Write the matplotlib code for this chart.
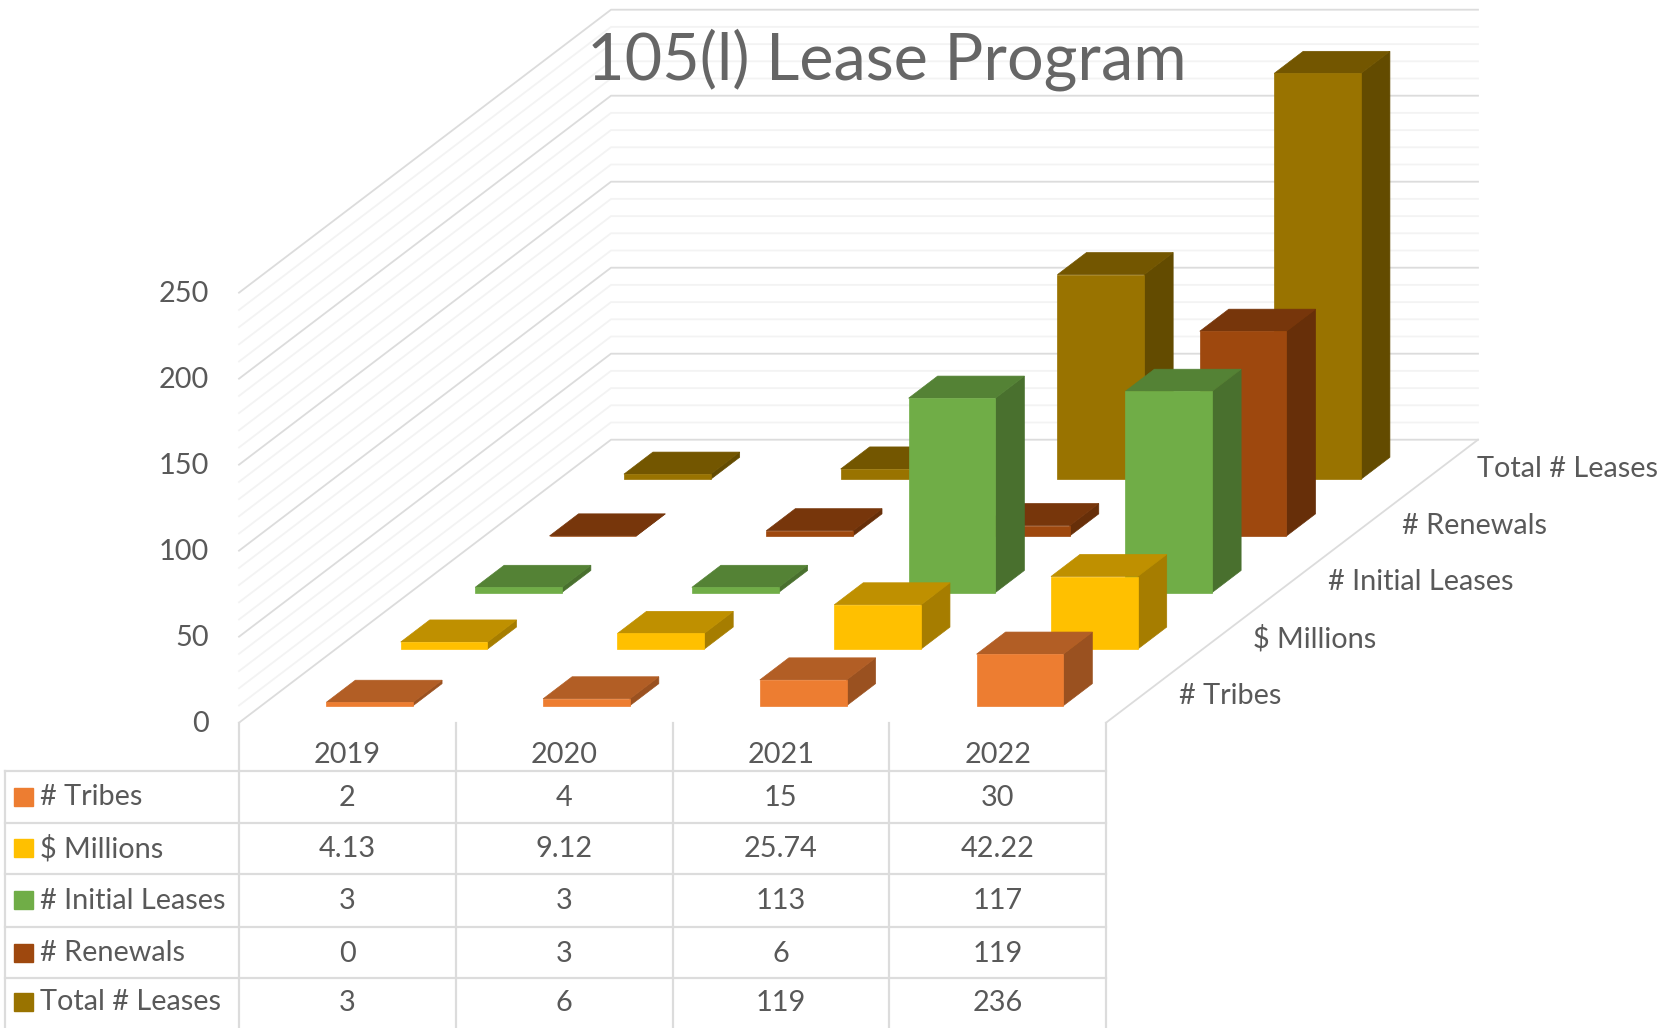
import matplotlib
matplotlib.use("Agg")
import matplotlib.pyplot as plt

years = ["2019", "2020", "2021", "2022"]
series = ["# Tribes", "$ Millions", "# Initial Leases", "# Renewals", "Total # Leases"]
tribes = [2, 4, 15, 30]
millions = [4.13, 9.12, 25.74, 42.22]
initial = [3, 3, 113, 117]
renewals = [0, 3, 6, 119]
total = [3, 6, 119, 236]
values = [tribes, millions, initial, renewals, total]
colors = ["#ED7D31", "#FFC000", "#70AD47", "#9E480E", "#997300"]

# geometry in pixels of the picture
x0, y0 = 239.0, 722.7
cat_w = 216.75
row_dx, row_dy = 74.4, -56.6
unit = 1.72
bar_w = 0.4
bar_d = 0.39
n_cat = len(years)
n_row = len(series)
grey = "#595959"
major = "#DCDCDC"
minor = "#F3F3F3"
fs = 20.8

plt.rcParams["font.family"] = ["Lato", "DejaVu Sans"]
fig = plt.figure(figsize=(16.61, 10.28), dpi=100)
ax = fig.add_axes([0, 0, 1, 1])
ax.set_xlim(0, 1661)
ax.set_ylim(1028, 0)
ax.axis("off")


def proj(cat, row, val):
    return x0 + cat * cat_w + row * row_dx, y0 + row * row_dy - val * unit


def shade(color, f):
    r, g, b = matplotlib.colors.to_rgb(color)
    return (r * f, g * f, b * f)


# wall and floor grid
for v in range(0, 251, 10):
    col = major if v % 50 == 0 else minor
    z = 2 if v % 50 == 0 else 1
    a = proj(0, 0, v)
    b = proj(0, n_row, v)
    c = proj(n_cat, n_row, v)
    ax.plot([a[0], b[0], c[0]], [a[1], b[1], c[1]], color=col, lw=1.3, zorder=z)
a = proj(n_cat, 0, 0)
b = proj(n_cat, n_row, 0)
ax.plot([a[0], b[0]], [a[1], b[1]], color=major, lw=1.3, zorder=2)

# bars, back row first so the front ones cover them
order = 3
for r in range(n_row - 1, -1, -1):
    for c in range(n_cat):
        v = values[r][c]
        l = c + 0.5 - bar_w / 2
        h = c + 0.5 + bar_w / 2
        f = 0.3 + r
        k = f + bar_d
        col = colors[r]
        front = [proj(l, f, 0), proj(h, f, 0), proj(h, f, v), proj(l, f, v)]
        side = [proj(h, f, 0), proj(h, k, 0), proj(h, k, v), proj(h, f, v)]
        top = [proj(l, f, v), proj(h, f, v), proj(h, k, v), proj(l, k, v)]
        ax.fill(*zip(*side), color=shade(col, 0.65), lw=0.5, zorder=order)
        ax.fill(*zip(*top), color=shade(col, 0.75), lw=0.5, zorder=order)
        ax.fill(*zip(*front), color=col, lw=0.5, zorder=order)
        order += 1

# value axis labels
for v in range(0, 251, 50):
    ax.text(209, proj(0, 0, v)[1] + 1, str(v), ha="right", va="center", fontsize=fs, color=grey)

# series labels along the right floor edge
for r in range(n_row):
    x, y = proj(n_cat, r, 0)
    ax.text(x + 73, y - 27, series[r], ha="left", va="center", fontsize=fs, color=grey)

ax.text(887, 60, "105(l) Lease Program", ha="center", va="center", fontsize=46.6,
        color="#666666", zorder=100)

# data table
row_lines = [770.7, 822.7, 873.5, 927, 978, 1040]
for y in row_lines[:-1]:
    ax.plot([5, 1106], [y, y], color=major, lw=1.6, zorder=2)
ax.plot([5, 5], [770.7, 1028], color=major, lw=1.6, zorder=2)
for c in range(n_cat + 1):
    x = proj(c, 0, 0)[0]
    ax.plot([x, x], [y0, 1028], color=major, lw=1.6, zorder=2)
for c in range(n_cat):
    x = proj(c + 0.5, 0, 0)[0]
    ax.text(x, 755, years[c], ha="center", va="center", fontsize=fs, color=grey)
for r in range(n_row):
    y = (row_lines[r] + row_lines[r + 1]) / 2 if r < n_row - 1 else 1002
    ax.fill([14, 33, 33, 14], [y - 9, y - 9, y + 9, y + 9], color=colors[r], zorder=3)
    ax.text(40, y + 0.5, series[r], ha="left", va="center", fontsize=fs, color=grey)
    for c in range(n_cat):
        ax.text(proj(c + 0.5, 0, 0)[0], y + 1, str(values[r][c]), ha="center", va="center",
                fontsize=fs, color=grey)

fig.savefig("out.png", dpi=100)
